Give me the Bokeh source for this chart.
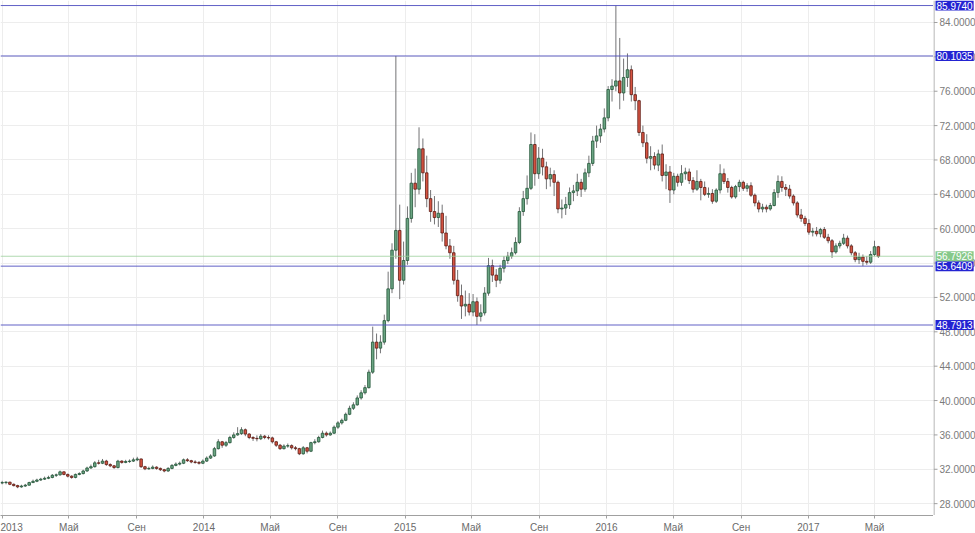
import pandas as pd
from bokeh.plotting import figure
from bokeh.layouts import row
from bokeh.models import (ColumnDataSource, Span, Label, FixedTicker, Range1d, Grid)
from bokeh.core.properties import value
from bokeh.embed import file_html
from bokeh.resources import INLINE

# ---------------- data (weekly USD/RUB candles) -------------
first_week = "2012-12-31"
first_open = 30.40

close = [
    # 2013
    30.45, 30.50, 30.25, 30.10, 29.95, 30.05, 30.15, 30.45, 30.60, 30.75,
    30.85, 30.95, 31.05, 31.30, 31.35, 31.70, 31.40, 31.20, 31.05, 31.40,
    31.50, 31.80, 32.15, 32.30, 32.75, 32.70, 32.95, 32.55, 32.40, 32.20,
    32.95, 32.80, 32.90, 32.95, 33.10, 33.20, 32.30, 32.05, 32.10, 32.25,
    32.10, 31.95, 31.80, 32.10, 32.45, 32.60, 32.70, 33.10, 33.00, 32.85,
    32.80, 32.70, 32.95,
    # 2014
    33.30, 33.55, 34.40, 35.20, 34.80, 35.10, 35.70, 36.00, 36.15, 36.60,
    36.10, 35.70, 35.60, 35.55, 35.85, 35.70, 35.65, 35.20, 34.80, 34.40,
    34.70, 34.75, 34.50, 34.40, 33.80, 34.50, 34.10, 35.10, 35.20, 35.70,
    36.20, 36.00, 36.20, 36.90, 37.40, 37.70, 38.40, 39.10, 39.50, 40.30,
    40.90, 41.50, 43.30, 46.80, 46.10, 46.80, 49.30, 53.00, 57.50, 59.80,
    54.00, 56.30,
    # 2015
    61.20, 65.30, 64.60, 69.30, 66.50, 63.50, 62.00, 61.30, 61.80, 59.50,
    58.00, 57.20, 54.00, 52.20, 51.00, 51.20, 50.30, 51.50, 49.80, 50.20,
    52.50, 55.70, 54.60, 54.00, 55.40, 56.30, 56.80, 57.20, 58.40, 62.00,
    63.50, 64.70, 69.80, 66.40, 68.20, 67.20, 65.80, 66.30, 65.40, 62.30,
    62.40, 62.80, 64.20, 64.40, 65.40, 64.60, 66.50, 67.60, 70.20, 70.80,
    71.60, 72.90,
    # 2016
    76.20, 76.60, 77.20, 75.80, 77.60, 78.50, 75.60, 74.90, 71.20, 70.00,
    68.20, 68.40, 67.40, 68.70, 66.20, 66.60, 64.50, 66.10, 65.40, 66.40,
    66.60, 65.60, 64.60, 65.50, 64.80, 64.00, 64.10, 63.20, 64.50, 66.40,
    65.50, 64.80, 63.70, 64.90, 65.40, 64.70, 65.00, 63.90, 63.00, 62.30,
    62.50, 62.30, 62.70, 64.20, 65.50, 64.80, 64.60, 63.80, 63.00, 61.60,
    61.20, 60.60,
    # 2017
    59.60, 59.70, 59.40, 59.90, 59.00, 58.60, 57.30, 58.00, 58.30, 58.90,
    58.00, 57.20, 56.40, 56.70, 56.20, 56.10, 57.00, 57.90, 56.7926,
]

high = [
    # 2013
    30.65, 30.60, 30.55, 30.35, 30.20, 30.20, 30.30, 30.55, 30.80, 30.90,
    31.00, 31.15, 31.25, 31.45, 31.50, 31.85, 31.75, 31.50, 31.30, 31.50,
    31.65, 31.95, 32.30, 32.55, 32.95, 33.10, 33.20, 33.10, 32.70, 32.50,
    33.10, 33.05, 33.10, 33.15, 33.35, 33.45, 33.25, 32.40, 32.30, 32.45,
    32.35, 32.20, 32.05, 32.25, 32.60, 32.80, 32.90, 33.25, 33.30, 33.10,
    33.05, 32.95, 33.15,
    # 2014
    33.50, 33.75, 34.60, 35.50, 35.30, 35.30, 35.90, 36.30, 36.90, 36.90,
    36.75, 36.20, 35.85, 35.95, 36.10, 36.00, 35.95, 35.80, 35.30, 34.95,
    34.90, 35.00, 34.90, 34.70, 34.50, 34.70, 34.60, 35.20, 35.50, 35.90,
    36.50, 36.40, 36.40, 37.10, 37.60, 37.90, 38.60, 39.40, 39.80, 40.60,
    41.20, 41.80, 43.60, 48.60, 47.80, 47.60, 50.00, 55.00, 58.30, 80.1035,
    62.80, 58.50,
    # 2015
    62.60, 66.50, 67.00, 71.80, 70.50, 68.50, 64.50, 63.80, 63.20, 62.80,
    61.50, 58.80, 58.00, 55.20, 53.50, 52.80, 52.50, 52.40, 52.00, 51.20,
    53.20, 56.60, 56.40, 55.30, 55.80, 56.80, 57.30, 57.80, 59.00, 62.50,
    64.40, 66.20, 71.20, 71.00, 69.50, 69.30, 67.80, 67.10, 66.80, 65.60,
    63.40, 63.70, 64.80, 65.10, 66.40, 65.80, 67.00, 68.50, 70.80, 72.00,
    72.20, 74.00,
    # 2016
    76.60, 77.40, 85.974, 82.20, 79.80, 80.40, 79.00, 76.50, 75.00, 72.00,
    71.00, 69.60, 68.90, 69.20, 69.80, 67.50, 67.30, 66.50, 66.40, 67.40,
    67.10, 67.00, 66.00, 66.80, 65.80, 65.50, 64.80, 64.60, 64.70, 67.50,
    67.00, 65.90, 65.00, 65.10, 65.70, 65.60, 65.30, 65.40, 64.10, 63.30,
    62.90, 62.80, 63.00, 64.60, 66.20, 66.10, 65.20, 65.10, 64.00, 63.20,
    62.30, 61.50,
    # 2017
    61.10, 60.10, 60.20, 60.10, 60.20, 59.40, 58.80, 58.30, 58.60, 59.40,
    59.20, 58.20, 57.40, 57.20, 57.00, 56.80, 57.40, 58.60, 58.00,
]

low = [
    # 2013
    30.25, 30.25, 30.15, 30.00, 29.80, 29.85, 29.95, 30.10, 30.40, 30.50,
    30.65, 30.75, 30.85, 30.95, 31.10, 31.25, 31.30, 31.05, 30.90, 30.95,
    31.30, 31.40, 31.70, 32.05, 32.20, 32.55, 32.60, 32.40, 32.25, 32.05,
    32.10, 32.65, 32.70, 32.75, 32.85, 32.95, 32.15, 31.90, 31.95, 32.00,
    31.95, 31.80, 31.65, 31.70, 32.00, 32.35, 32.45, 32.60, 32.85, 32.70,
    32.65, 32.55, 32.60,
    # 2014
    32.85, 33.20, 33.45, 34.30, 34.50, 34.60, 35.00, 35.55, 35.90, 36.00,
    35.85, 35.50, 35.30, 35.25, 35.40, 35.50, 35.45, 35.00, 34.60, 34.25,
    34.30, 34.50, 34.30, 34.20, 33.65, 33.70, 33.85, 34.00, 34.90, 35.10,
    35.60, 35.80, 35.90, 36.10, 36.70, 37.20, 37.60, 38.30, 38.90, 39.40,
    40.10, 40.70, 41.40, 43.10, 44.80, 45.50, 46.50, 49.10, 52.50, 56.50,
    51.80, 53.50,
    # 2015
    55.80, 60.70, 62.50, 64.00, 65.50, 62.50, 60.80, 60.50, 60.20, 58.50,
    57.60, 56.50, 53.50, 51.50, 49.50, 49.80, 49.90, 49.80, 48.7913, 49.20,
    49.90, 52.20, 53.80, 53.20, 53.60, 54.90, 55.90, 56.50, 57.00, 58.20,
    61.50, 62.80, 64.50, 65.00, 65.80, 66.20, 64.60, 64.90, 63.80, 61.80,
    61.20, 61.60, 62.30, 63.20, 63.80, 63.70, 64.30, 66.00, 67.30, 69.40,
    70.00, 71.20,
    # 2016
    72.50, 74.80, 76.00, 73.90, 74.90, 76.50, 74.80, 73.80, 70.80, 69.50,
    67.60, 66.80, 66.90, 66.70, 65.50, 64.60, 63.00, 64.00, 64.90, 65.00,
    65.70, 65.20, 64.20, 64.40, 63.30, 63.80, 63.60, 62.90, 63.00, 64.10,
    65.20, 64.20, 63.50, 63.50, 64.30, 64.40, 64.30, 63.70, 62.60, 61.90,
    61.90, 61.90, 62.10, 62.60, 63.60, 64.30, 63.80, 63.50, 62.70, 61.30,
    60.80, 60.30,
    # 2017
    59.30, 59.10, 59.10, 59.00, 58.80, 58.30, 56.60, 57.10, 57.70, 58.10,
    57.70, 56.90, 56.10, 55.90, 55.6409, 55.80, 55.90, 56.80, 56.60,
]

# horizontal levels drawn on the chart
level_values = [85.9740, 80.1035, 55.6409, 48.7913]
level_texts = ["85.9740", "80.1035", "55.6409", "48.7913"]
last_price = 56.7926
last_price_text = "56.7926"

# axis ticks
x_tick_dates = ["2013-01-01", "2013-05-01", "2013-09-01", "2014-01-01", "2014-05-01",
                "2014-09-01", "2015-01-01", "2015-05-01", "2015-09-01", "2016-01-01",
                "2016-05-01", "2016-09-01", "2017-01-01", "2017-05-01"]
x_tick_texts = ["2013", "Май", "Сен", "2014", "Май", "Сен", "2015", "Май", "Сен",
                "2016", "Май", "Сен", "2017", "Май"]
y_ticks = [28, 32, 36, 40, 44, 48, 52, 56, 60, 64, 68, 72, 76, 80, 84]
y_tick_texts = ["28.0000", "32.0000", "36.0000", "40.0000", "44.0000", "48.0000",
                "52.0000", "56.0000", "60.0000", "64.0000", "68.0000", "72.0000",
                "76.0000", "80.0000", "84.0000"]

# ---------------- build ------------------------------------------------------
dates = pd.date_range(first_week, periods=len(close), freq="7D")
open_ = [first_open] + close[:-1]
up = [c >= o for o, c in zip(open_, close)]

UP_FILL, UP_LINE = "#6ba583", "#225437"
DN_FILL, DN_LINE = "#d75442", "#5b1a13"
GRID = "#ededed"
AXIS = "#a0a0a0"
TXT = "#7a7a7a"
FONT = "Liberation Sans"

src = ColumnDataSource(dict(
    x=dates,
    top=[max(o, c) for o, c in zip(open_, close)],
    bottom=[min(o, c) for o, c in zip(open_, close)],
    high=high, low=low,
    fill=[UP_FILL if u else DN_FILL for u in up],
    line=[UP_LINE if u else DN_LINE for u in up],
))

FRAME_H = 515
y_range = Range1d(26.62, 86.56)

p = figure(frame_width=933, frame_height=FRAME_H, x_axis_type="datetime",
           y_axis_location=None, output_backend="svg", toolbar_location=None,
           x_range=Range1d(pd.Timestamp("2012-12-28"), pd.Timestamp("2017-08-16")),
           y_range=y_range, min_border=0)
p.background_fill_color = "white"
p.border_fill_color = "white"
p.outline_line_color = None

# grids (own tickers)
tick_ms = [pd.Timestamp(d).value // 10**6 for d in x_tick_dates]
p.center = [r for r in p.center if not isinstance(r, Grid)]
p.add_layout(Grid(dimension=0, ticker=FixedTicker(ticks=tick_ms), grid_line_color=GRID))
p.add_layout(Grid(dimension=1, ticker=FixedTicker(ticks=y_ticks), grid_line_color=GRID))

# time axis
p.xaxis.ticker = FixedTicker(ticks=tick_ms)
p.xaxis.major_label_overrides = {float(ms): t for ms, t in zip(tick_ms, x_tick_texts)}
p.xaxis.minor_tick_line_color = None
p.xaxis.major_tick_in = 0
p.xaxis.major_tick_out = 3
p.xaxis.axis_line_color = AXIS
p.xaxis.major_tick_line_color = AXIS
p.xaxis.major_label_text_font = FONT
p.xaxis.major_label_text_font_size = "10px"
p.xaxis.major_label_text_color = "#6a6a6a"
p.xaxis.major_label_standoff = 3

# candles
p.segment(x0="x", y0="high", x1="x", y1="low", source=src, line_color="#737375", line_width=1)
body_w = 4.6 * 24 * 3600 * 1000
p.vbar(x="x", width=body_w, top="top", bottom="bottom", source=src,
       fill_color="fill", line_color="line", line_width=0.8)

# level lines
for v in level_values:
    p.add_layout(Span(location=v, dimension="width", line_color="#5050c0",
                      line_width=1, line_alpha=0.9))
p.add_layout(Span(location=last_price, dimension="width", line_color="#9ed19e",
                  line_width=1, line_alpha=0.8))

# ---------------- price scale strip on the right ---------------------------------
s = figure(frame_width=42, frame_height=FRAME_H, x_range=Range1d(0, 42), y_range=y_range,
           x_axis_location=None, y_axis_location=None, output_backend="svg",
           toolbar_location=None, min_border=0)
s.center = [r for r in s.center if not isinstance(r, Grid)]
s.outline_line_color = None
s.background_fill_color = "white"
s.border_fill_color = "white"
s.add_layout(Span(location=0.5, dimension="height", line_color=AXIS, line_width=1))
s.segment(x0=0, x1=4, y0=y_ticks, y1=y_ticks, line_color=AXIS, line_width=1)
s.text(x=[6] * len(y_ticks), y=y_ticks, text=y_tick_texts, text_baseline="middle",
       text_font=value(FONT), text_font_size="10px", text_color=TXT)

for v, t in zip(level_values, level_texts):
    s.add_layout(Label(x=2, y=v, text=t, text_baseline="middle",
                       text_font=FONT, text_font_size="10px", text_color="white",
                       background_fill_color="#2323d2", padding=1))
s.add_layout(Label(x=2, y=last_price, text=last_price_text, text_baseline="middle",
                   text_font=FONT, text_font_size="10px", text_color="white",
                   background_fill_color="#86c98a", padding=1))

layout = row(p, s)
open("out.html", "w").write(file_html(layout, INLINE))
